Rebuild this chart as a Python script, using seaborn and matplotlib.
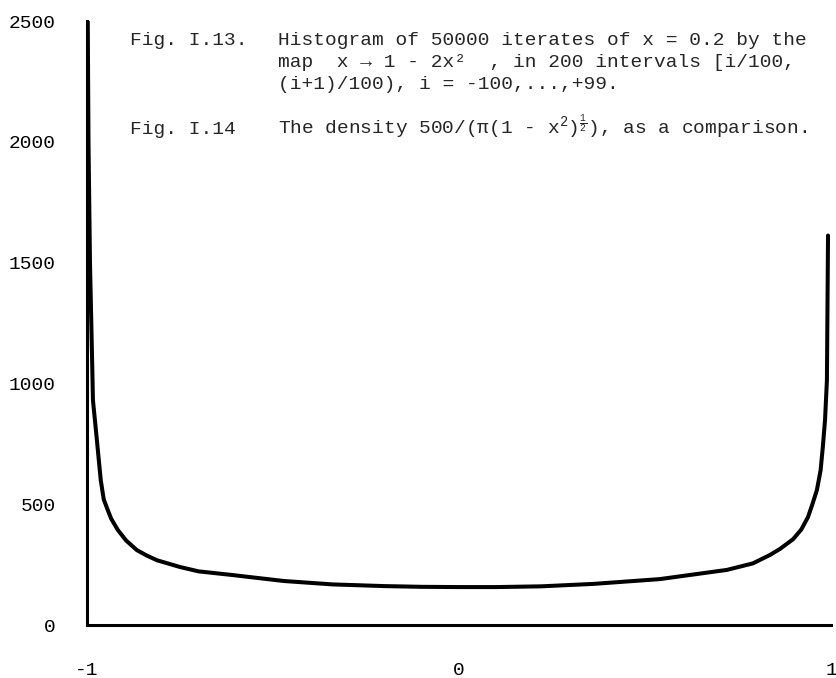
import matplotlib
matplotlib.use("Agg")
import matplotlib.pyplot as plt
import seaborn as sns
import pandas as pd

# ---- data ----
x_values = [-0.998, -0.996, -0.992, -0.987, -0.984, -0.976, -0.963, -0.955, -0.944,
            -0.935, -0.917, -0.895, -0.866, -0.84, -0.812, -0.75, -0.70, -0.61,
            -0.56, -0.47, -0.34, -0.20, -0.10, 0.0, 0.10, 0.22, 0.36, 0.54, 0.72,
            0.79, 0.836, 0.863, 0.898, 0.92, 0.938, 0.95, 0.962, 0.972, 0.978,
            0.984, 0.989, 0.992]
counts = [2500, 2000, 1500, 1150, 930, 806, 599, 520, 475,
          440, 393, 350, 310, 288, 268, 240, 222, 207,
          198, 182, 168, 161, 158, 157, 157, 160, 170, 190, 228,
          255, 290, 315, 355, 395, 446, 500, 558, 640, 736,
          850, 1012, 1612]

x_major = [-1, -0.6, -0.2, 0.2, 0.6, 1]
x_major_labels = ["-1", "", "", "", "", "1"]
x_minor = [-0.8, -0.4, 0, 0.4, 0.8]
x_minor_labels = ["", "", "0", "", ""]
y_major = [0, 500, 1000, 1500, 2000, 2500]
y_minor = [v for v in range(0, 2501, 100) if v % 500 != 0]

caption_left = ["Fig. I.13.", "Fig. I.14"]
caption_lines = ["Histogram of 50000 iterates of x = 0.2 by the",
                 "map  x \u2192 1 - 2x\u00b2  , in 200 intervals [i/100,",
                 "(i+1)/100), i = -100,...,+99."]
caption_14 = "The density 500/(\u03c0(1 - x$^{2}$)$^{\\frac{1}{2}}$), as a comparison."

df = pd.DataFrame({"x": x_values, "count": counts})

sns.set_theme(style="white")
mono = ["Liberation Mono", "DejaVu Sans Mono"]
plt.rcParams["font.family"] = mono
plt.rcParams["mathtext.fontset"] = "custom"
plt.rcParams["mathtext.rm"] = "Liberation Mono"
plt.rcParams["mathtext.it"] = "Liberation Mono"
plt.rcParams["mathtext.bf"] = "Liberation Mono"

W, H = 836, 678
fig = plt.figure(figsize=(W / 100, H / 100), dpi=100)
fig.patch.set_facecolor("white")
ax = fig.add_axes([87 / W, 53 / H, 744 / W, 604 / H])
ax.set_facecolor("white")

sns.lineplot(data=df, x="x", y="count", ax=ax, color="black", linewidth=2.9,
             solid_capstyle="round", solid_joinstyle="round")

ax.set_xlim(-1, 1)
ax.set_ylim(0, 2500)
ax.set_xlabel("")
ax.set_ylabel("")

for s in ["top", "right"]:
    ax.spines[s].set_visible(False)
for s in ["left", "bottom"]:
    ax.spines[s].set_color("black")
    ax.spines[s].set_linewidth(2.2)

ax.set_xticks(x_major)
ax.set_xticklabels(x_major_labels)
ax.set_xticks(x_minor, minor=True)
ax.set_xticklabels(x_minor_labels, minor=True)
ax.set_yticks(y_major)
ax.set_yticklabels([str(v) for v in y_major])
ax.set_yticks(y_minor, minor=True)

ax.tick_params(axis="both", which="both", direction="out", color="black",
               width=2.0, labelcolor="black", labelsize=14)
ax.tick_params(axis="x", which="major", length=16.5, pad=10)
ax.tick_params(axis="x", which="minor", length=8.6, pad=17.9)
ax.tick_params(axis="y", which="major", length=17, pad=5.5)
ax.tick_params(axis="y", which="minor", length=9.5)
for lab in ax.get_xticklabels(minor=True) + ax.get_xticklabels() + ax.get_yticklabels():
    lab.set_fontfamily(mono)

# caption text
fs = 14
fig.text(130 / W, 1 - 45 / H, caption_left[0], fontsize=fs, family=mono, va="baseline")
for i, line in enumerate(caption_lines):
    fig.text(278 / W, 1 - (45 + 22 * i) / H, line, fontsize=fs, family=mono, va="baseline")
fig.text(130 / W, 1 - 134 / H, caption_left[1], fontsize=fs, family=mono, va="baseline")
fig.text(278 / W, 1 - 134 / H, caption_14, fontsize=fs, family=mono, va="baseline")

fig.savefig("out.png", dpi=100, facecolor="white")
